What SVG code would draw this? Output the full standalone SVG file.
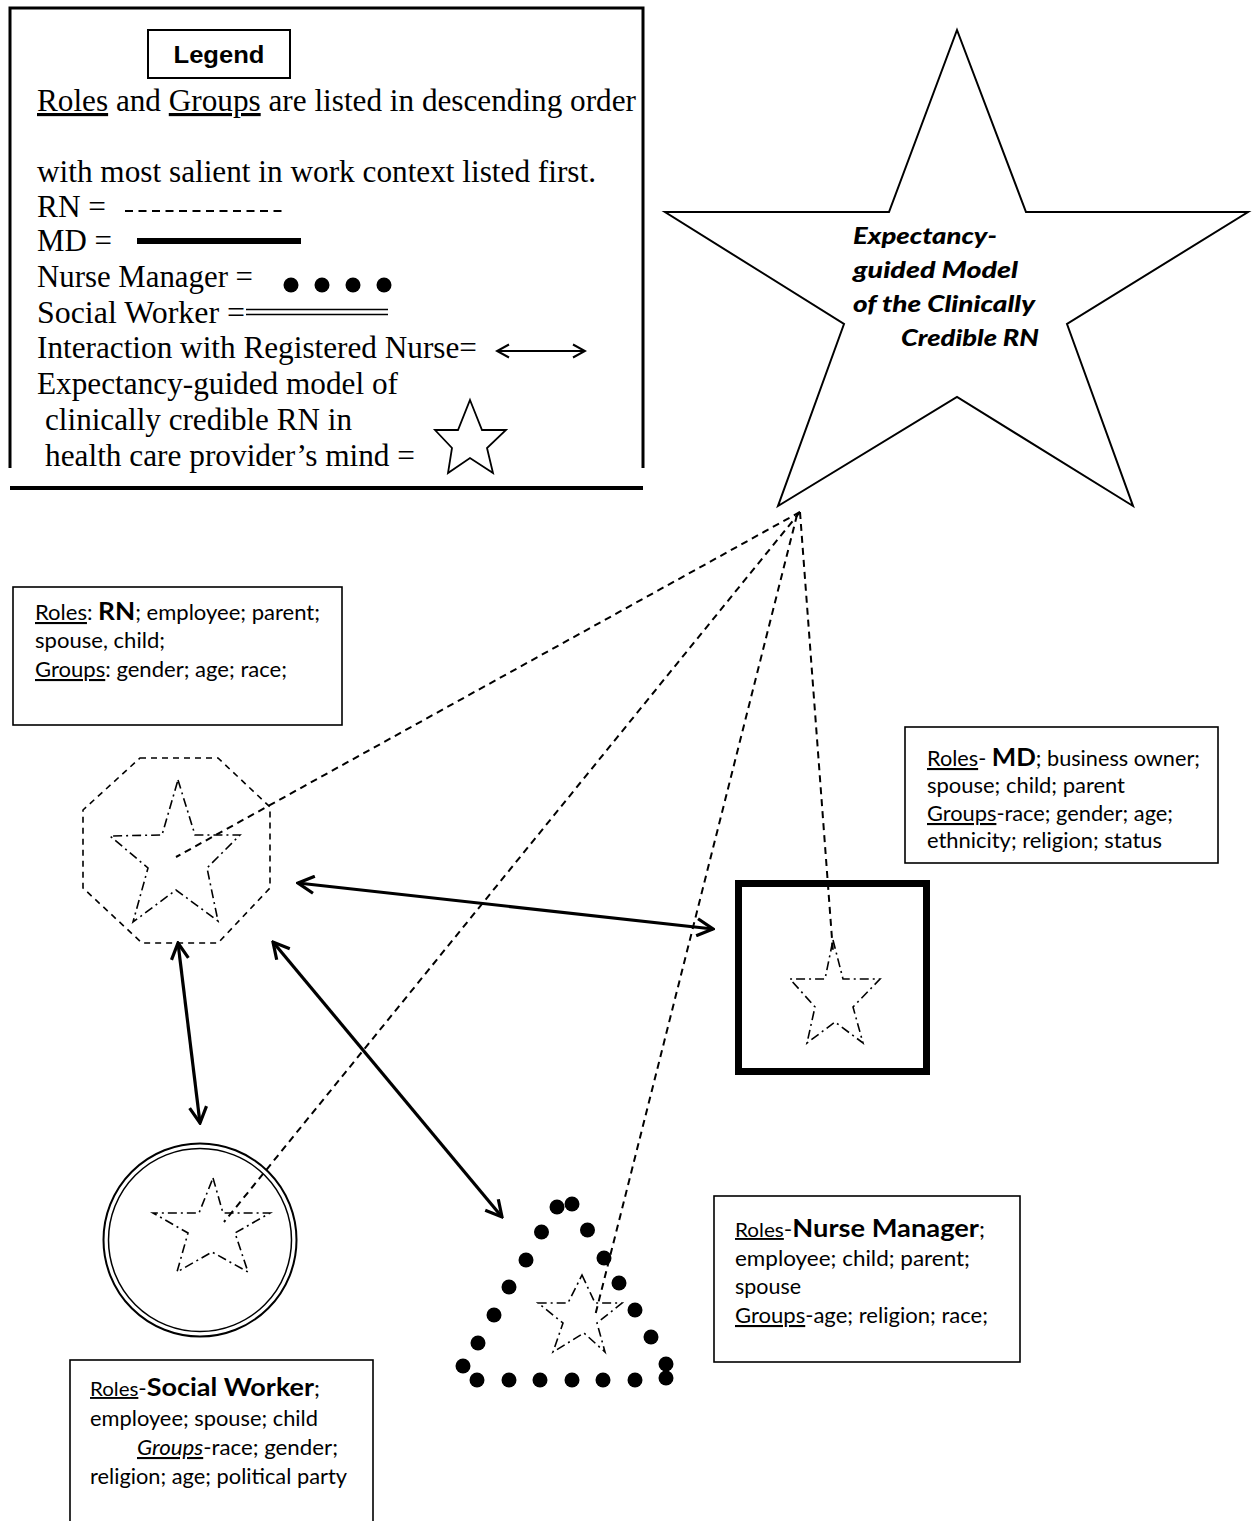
<svg xmlns="http://www.w3.org/2000/svg" width="1257" height="1521" viewBox="0 0 1257 1521">
<style>
.serif{font-family:"Liberation Serif","Times New Roman",serif;font-size:31.5px;fill:#000}
.cal{font-family:Lato,"Open Sans",sans-serif;font-size:21px;fill:#000}
.big{font-weight:bold;font-size:25px}
.sm{font-size:19px}
.u{text-decoration:underline}
.box{fill:#fff;stroke:#000;stroke-width:1.6}
.oct{fill:none;stroke:#000;stroke-width:1.6;stroke-dasharray:6 5}
.star{fill:none;stroke:#000;stroke-width:1.6;stroke-dasharray:9 4 2 4}
.conn{fill:none;stroke:#000;stroke-width:2;stroke-dasharray:7 5}
.arrow{fill:none;stroke:#000;stroke-width:3.2;marker-start:url(#ah);marker-end:url(#ah)}
.dot{fill:#000}
.startext{font-family:Lato,"Open Sans",sans-serif;font-size:23px;font-weight:900;font-style:italic;fill:#000}
</style>
<defs>
<marker id="ah" viewBox="0 0 20 20" refX="18" refY="10" markerWidth="20" markerHeight="20" markerUnits="userSpaceOnUse" orient="auto-start-reverse">
<path d="M2,1.5 L18,10 L2,18.5" fill="none" stroke="#000" stroke-width="3.2"/>
</marker>
<marker id="ahs" viewBox="0 0 16 16" refX="14" refY="8" markerWidth="16" markerHeight="16" markerUnits="userSpaceOnUse" orient="auto-start-reverse">
<path d="M2,1.5 L14,8 L2,14.5" fill="none" stroke="#000" stroke-width="2"/>
</marker>
</defs>
<rect width="1257" height="1521" fill="#fff"/>

<g id="legend">
<path d="M10,468 V8 H643 V468" fill="none" stroke="#000" stroke-width="3"/>
<line x1="10" y1="488" x2="643" y2="488" stroke="#000" stroke-width="4"/>
<rect x="148" y="30" width="142" height="48" fill="#fff" stroke="#000" stroke-width="2"/>
<text x="219" y="63" text-anchor="middle" font-family="'Liberation Sans',Arial,sans-serif" font-weight="bold" font-size="23" textLength="91" lengthAdjust="spacingAndGlyphs">Legend</text>
<text class="serif" x="37" y="111" textLength="599" lengthAdjust="spacingAndGlyphs"><tspan class="u">Roles</tspan> and <tspan class="u">Groups</tspan> are listed in descending order</text>
<text class="serif" x="37" y="182" textLength="559" lengthAdjust="spacingAndGlyphs">with most salient in work context listed first.</text>
<text class="serif" x="37" y="217" textLength="69" lengthAdjust="spacingAndGlyphs">RN =</text>
<line x1="125" y1="211" x2="287" y2="211" stroke="#000" stroke-width="2" stroke-dasharray="8 5.5"/>
<text class="serif" x="37" y="251" textLength="75" lengthAdjust="spacingAndGlyphs">MD =</text>
<line x1="137" y1="241" x2="301" y2="241" stroke="#000" stroke-width="6"/>
<text class="serif" x="37" y="287" textLength="216" lengthAdjust="spacingAndGlyphs">Nurse Manager =</text>
<circle class="dot" cx="291" cy="285" r="7.5"/>
<circle class="dot" cx="322" cy="285" r="7.5"/>
<circle class="dot" cx="353" cy="285" r="7.5"/>
<circle class="dot" cx="384" cy="285" r="7.5"/>
<text class="serif" x="37" y="323" textLength="208" lengthAdjust="spacingAndGlyphs">Social Worker =</text>
<line x1="246" y1="309.5" x2="388" y2="309.5" stroke="#000" stroke-width="1.6"/>
<line x1="246" y1="314.5" x2="388" y2="314.5" stroke="#000" stroke-width="1.6"/>
<text class="serif" x="37" y="358" textLength="440" lengthAdjust="spacingAndGlyphs">Interaction with Registered Nurse=</text>
<line x1="497" y1="351" x2="585" y2="351" stroke="#000" stroke-width="2" marker-start="url(#ahs)" marker-end="url(#ahs)"/>
<text class="serif" x="37" y="394" textLength="361" lengthAdjust="spacingAndGlyphs">Expectancy-guided model of</text>
<text class="serif" x="45" y="430" textLength="307" lengthAdjust="spacingAndGlyphs">clinically credible RN in</text>
<text class="serif" x="45" y="466" textLength="370" lengthAdjust="spacingAndGlyphs">health care provider’s mind =</text>
<polygon points="470,400 482,430 506,430 487,448 493,473 470,458 448,473 452,448 435,430 458,430" fill="none" stroke="#000" stroke-width="1.8"/>
</g>

<g id="model-star">
<polygon points="957,30 1026,212 1248,212 1067,324 1133,506 957,397 778,506 844,324 665,212 889,212" fill="#fff" stroke="#000" stroke-width="2"/>
<text class="startext" x="853" y="244" textLength="144" lengthAdjust="spacingAndGlyphs">Expectancy-</text>
<text class="startext" x="853" y="278" textLength="165" lengthAdjust="spacingAndGlyphs">guided Model</text>
<text class="startext" x="853" y="312" textLength="182" lengthAdjust="spacingAndGlyphs">of the Clinically</text>
<text class="startext" x="901" y="346" textLength="138" lengthAdjust="spacingAndGlyphs">Credible RN</text>
</g>

<g id="rn-box">
<rect class="box" x="13" y="587" width="329" height="138"/>
<text class="cal" x="35" y="620" textLength="285" lengthAdjust="spacingAndGlyphs"><tspan class="u">Roles</tspan>: <tspan class="big">RN</tspan>; employee; parent;</text>
<text class="cal" x="35" y="648" textLength="130" lengthAdjust="spacingAndGlyphs">spouse, child;</text>
<text class="cal" x="35" y="677" textLength="252" lengthAdjust="spacingAndGlyphs"><tspan class="u">Groups</tspan>: gender; age; race;</text>
</g>

<g id="rn-node">
<polygon class="oct" points="140,758 218,758 270,807 270,888 218,943 142,943 83,888 83,810"/>
<polygon class="star" points="178,780 195,835 240,835 207,868 218,921 176,890 133,922 148,868 110,836 162,835"/>
</g>

<g id="md-box">
<rect class="box" x="905" y="727" width="313" height="136"/>
<text class="cal" x="927" y="766" textLength="273" lengthAdjust="spacingAndGlyphs"><tspan class="u">Roles</tspan>- <tspan class="big">MD</tspan>; business owner;</text>
<text class="cal" x="927" y="793" textLength="198" lengthAdjust="spacingAndGlyphs">spouse; child; parent</text>
<text class="cal" x="927" y="821" textLength="246" lengthAdjust="spacingAndGlyphs"><tspan class="u">Groups</tspan>-race; gender; age;</text>
<text class="cal" x="927" y="848" textLength="235" lengthAdjust="spacingAndGlyphs">ethnicity; religion; status</text>
</g>

<g id="md-node">
<rect x="738.5" y="883.5" width="188" height="188" fill="none" stroke="#000" stroke-width="7"/>
<polygon class="star" points="833,940 843,979 880,979 853,1007 863,1043 835,1022 807,1043 815,1007 790,979 825,979"/>
</g>

<g id="sw-node">
<circle cx="200" cy="1240" r="96.5" fill="none" stroke="#000" stroke-width="2"/>
<circle cx="200" cy="1240" r="91.5" fill="none" stroke="#000" stroke-width="1.5"/>
<polygon class="star" points="213,1178 223,1213 270,1213 235,1233 248,1272 212,1252 177,1272 188,1233 153,1213 199,1213"/>
</g>

<g id="sw-box">
<rect class="box" x="70" y="1360" width="303" height="175"/>
<text class="cal" x="90" y="1396" textLength="230" lengthAdjust="spacingAndGlyphs"><tspan class="u sm">Roles</tspan>-<tspan class="big">Social Worker</tspan>;</text>
<text class="cal" x="90" y="1426" textLength="228" lengthAdjust="spacingAndGlyphs">employee; spouse; child</text>
<text class="cal" x="137" y="1455" textLength="201" lengthAdjust="spacingAndGlyphs"><tspan class="u" font-style="italic">Groups</tspan>-race; gender;</text>
<text class="cal" x="90" y="1484" textLength="257" lengthAdjust="spacingAndGlyphs">religion; age; political party</text>
</g>

<g id="nm-node">
<circle class="dot" cx="557" cy="1207" r="7.5"/>
<circle class="dot" cx="572" cy="1204" r="7.5"/>
<circle class="dot" cx="541.5" cy="1232" r="7.5"/>
<circle class="dot" cx="587.5" cy="1230" r="7.5"/>
<circle class="dot" cx="526" cy="1260" r="7.5"/>
<circle class="dot" cx="604" cy="1258" r="7.5"/>
<circle class="dot" cx="509" cy="1287" r="7.5"/>
<circle class="dot" cx="619" cy="1283" r="7.5"/>
<circle class="dot" cx="494" cy="1315" r="7.5"/>
<circle class="dot" cx="635" cy="1310" r="7.5"/>
<circle class="dot" cx="478" cy="1343" r="7.5"/>
<circle class="dot" cx="651" cy="1337" r="7.5"/>
<circle class="dot" cx="463" cy="1366" r="7.5"/>
<circle class="dot" cx="477" cy="1380" r="7.5"/>
<circle class="dot" cx="509" cy="1380" r="7.5"/>
<circle class="dot" cx="540" cy="1380" r="7.5"/>
<circle class="dot" cx="572" cy="1380" r="7.5"/>
<circle class="dot" cx="603" cy="1380" r="7.5"/>
<circle class="dot" cx="635" cy="1380" r="7.5"/>
<circle class="dot" cx="666" cy="1378" r="7.5"/>
<circle class="dot" cx="666" cy="1364" r="7.5"/>
<polygon class="star" points="582,1275 595,1303 622,1303 597,1323 605,1352 584,1333 553,1352 563,1323 538,1303 568,1303"/>
</g>

<g id="nm-box">
<rect class="box" x="714" y="1196" width="306" height="166"/>
<text class="cal" x="735" y="1237" textLength="250" lengthAdjust="spacingAndGlyphs"><tspan class="u sm">Roles</tspan>-<tspan class="big">Nurse Manager</tspan>;</text>
<text class="cal" x="735" y="1266" textLength="235" lengthAdjust="spacingAndGlyphs">employee; child; parent;</text>
<text class="cal" x="735" y="1294" textLength="66" lengthAdjust="spacingAndGlyphs">spouse</text>
<text class="cal" x="735" y="1323" textLength="253" lengthAdjust="spacingAndGlyphs"><tspan class="u">Groups</tspan>-age; religion; race;</text>
</g>

<g id="connectors">
<line class="conn" x1="800" y1="512" x2="176" y2="857"/>
<line class="conn" x1="800" y1="512" x2="224" y2="1222"/>
<line class="conn" x1="797" y1="515" x2="595" y2="1316"/>
<line class="conn" x1="800" y1="512" x2="833" y2="952"/>
<line class="arrow" x1="298" y1="883" x2="713" y2="929"/>
<line class="arrow" x1="178" y1="943" x2="200" y2="1123"/>
<line class="arrow" x1="273" y1="942" x2="502" y2="1217"/>
</g>
</svg>
